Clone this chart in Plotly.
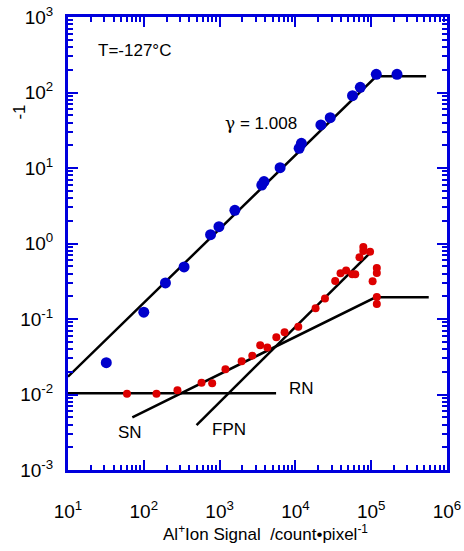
import plotly.graph_objects as go

# Blue: measured signal (log-log)
blue_x = [32, 100, 193, 340, 760, 980, 1590, 3600, 3850, 6280, 11200, 12000,
          21700, 28800, 56700, 71800, 116700, 219000]
blue_y = [0.0264, 0.123, 0.30, 0.489, 1.31, 1.67, 2.75, 5.95, 6.6, 10.1, 18.2, 21.2,
          37.2, 46.4, 90.8, 117, 174, 174]

# Red: noise data
red_x = [60, 147, 278, 578, 798, 1194, 1954, 2700, 3434, 4264, 5605, 7194, 10920,
         18450, 24550, 33500, 39400, 46700, 56200, 61600, 70000, 78700, 78700,
         96600, 104400, 118600, 118600, 118600, 118600]
red_y = [0.01025, 0.01025, 0.01137, 0.01432, 0.01407, 0.02163, 0.02754, 0.03266,
         0.04487, 0.04197, 0.0573, 0.0668, 0.0789, 0.1386, 0.187, 0.3186, 0.403,
         0.439, 0.391, 0.391, 0.656, 0.899, 0.796, 0.778, 0.317, 0.473, 0.407,
         0.195, 0.158]

# Model lines
fit_x = [10, 116700, 530000]
fit_y = [0.0172, 164, 164]
rn_x = [10, 5560]
rn_y = [0.0104, 0.0104]
sn_x = [70.6, 114000, 574000]
sn_y = [0.00499, 0.194, 0.194]
fpn_x = [497, 103500]
fpn_y = [0.00394, 0.803]

# Tick labels
x_tickvals = [1e1, 1e2, 1e3, 1e4, 1e5, 1e6]
x_ticktext = ["10<sup>1</sup>", "10<sup>2</sup>", "10<sup>3</sup>",
              "10<sup>4</sup>", "10<sup>5</sup>", "10<sup>6</sup>"]
y_tickvals = [1e-3, 1e-2, 1e-1, 1e0, 1e1, 1e2, 1e3]
y_ticktext = ["10<sup>-3</sup>", "10<sup>-2</sup>", "10<sup>-1</sup>",
              "10<sup>0</sup>", "10<sup>1</sup>", "10<sup>2</sup>", "10<sup>3</sup>"]

AXC = "#0000dd"
FONT = "Liberation Sans, Arial, sans-serif"

fig = go.Figure()
line_style = dict(color="black", width=2.5)
for xs, ys in [(fit_x, fit_y), (rn_x, rn_y), (sn_x, sn_y), (fpn_x, fpn_y)]:
    fig.add_trace(go.Scatter(x=xs, y=ys, mode="lines", line=line_style,
                             showlegend=False, hoverinfo="skip"))

fig.add_trace(go.Scatter(x=blue_x, y=blue_y, mode="markers",
                         marker=dict(color="#0000cc", size=11), showlegend=False))
fig.add_trace(go.Scatter(x=red_x, y=red_y, mode="markers",
                         marker=dict(color="#dd0000", size=8), showlegend=False))

axis_common = dict(
    type="log", showgrid=False, zeroline=False, automargin=False,
    showline=True, linecolor=AXC, linewidth=3, mirror="allticks",
    ticks="inside", ticklen=10, tickwidth=2, tickcolor=AXC,
    tickfont=dict(family=FONT, size=19, color="black"),
    ticklabeloverflow="allow",
    minor=dict(ticks="inside", ticklen=5, tickwidth=2, tickcolor=AXC,
               dtick="D1", showgrid=False),
)

fig.update_xaxes(range=[1, 6], ticklabelstandoff=22,
                 tickvals=x_tickvals, ticktext=x_ticktext, **axis_common)
fig.update_yaxes(range=[-3, 3], ticklabelstandoff=8,
                 tickvals=y_tickvals, ticktext=y_ticktext, **axis_common)

ann_font = dict(family=FONT, size=17, color="black")
annotations = [
    dict(text="T=-127°C", x=0.075, y=0.925, xanchor="left"),
    dict(text="<span style='font-family:DejaVu Serif'>γ</span> = 1.008",
         x=0.408, y=0.766, xanchor="left"),
    dict(text="RN", x=0.577, y=0.179, xanchor="left"),
    dict(text="SN", x=0.1256, y=0.083, xanchor="left"),
    dict(text="FPN", x=0.374, y=0.090, xanchor="left"),
    dict(text="Al<sup>+</sup>Ion Signal \u00a0/count•pixel<sup>-1</sup>",
         x=0.52, y=-0.139, xanchor="center"),
    dict(text="-1", x=-0.128, y=0.79, xanchor="center", textangle=-90),
]
for a in annotations:
    fig.add_annotation(xref="paper", yref="paper", yanchor="middle",
                       showarrow=False, font=ann_font, **a)

fig.update_layout(
    width=464, height=551,
    margin=dict(l=68, r=17, t=17, b=81, autoexpand=False),
    paper_bgcolor="white", plot_bgcolor="white",
    font=dict(family=FONT, color="black"),
)

# Remove the browser's default body margin so the figure sits at the page origin.
fig.write_html("out.html",
               config={"displayModeBar": False},
               post_script="document.body.style.margin='0';document.body.style.overflow='hidden';")
